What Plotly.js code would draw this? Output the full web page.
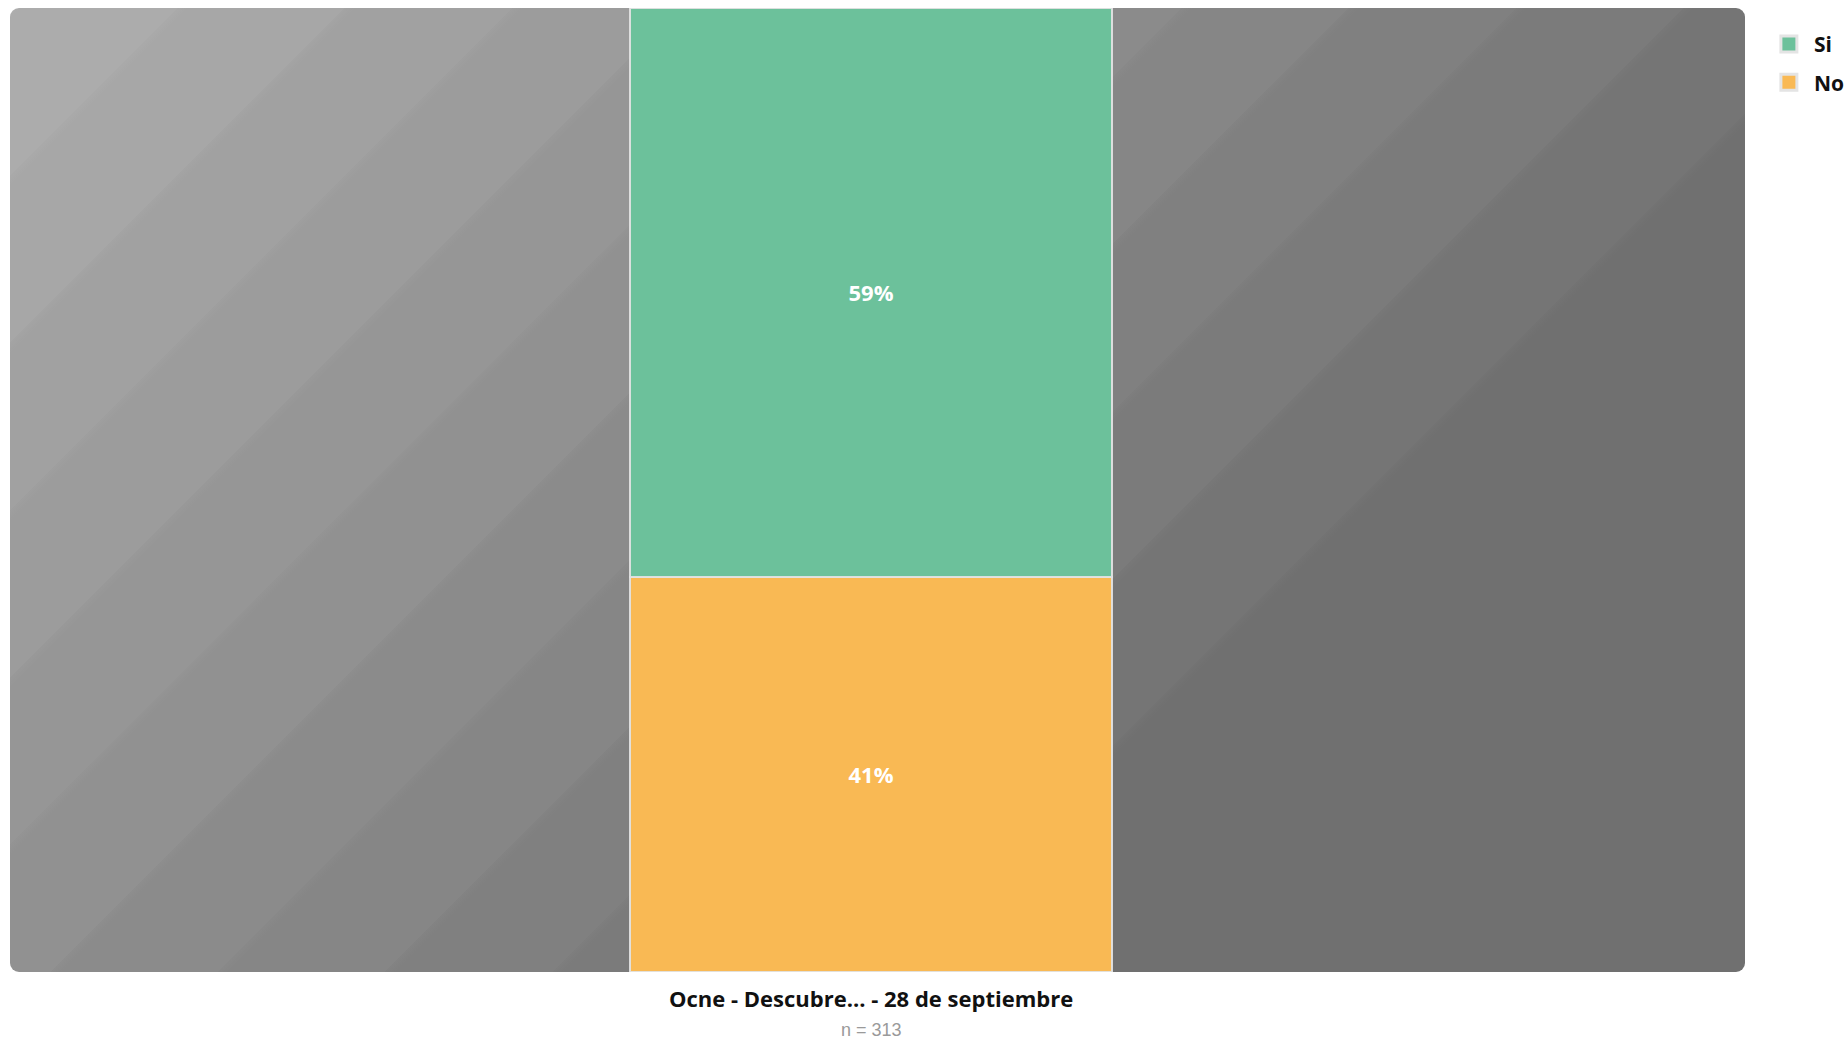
<!DOCTYPE html>
<html>
<head>
<meta charset="utf-8">
<script src="https://cdn.plot.ly/plotly-3.0.1.min.js"></script>
<style>
  html, body { margin: 0; padding: 0; background: #ffffff; }
  #chart { width: 1847px; height: 1039px; }
</style>
</head>
<body>
<div id="chart"></div>
<script>
// ---- data ----
const categories = ["Ocne - Descubre... - 28 de septiembre"];
const sampleLabel = "n = 313";
const seriesNames = ["Si", "No"];
const siValues = [59];
const noValues = [41];
const seriesColors = { Si: "#6cc19b", No: "#f9b954" };

// ---- decorative background (glossy striped gray panel) ----
const W = 1735, H = 964;
const bandGrays = [172, 167, 161, 156, 150, 145, 139, 134, 128, 123, 117, 112];
const bandStep = 0.062;
let stops = "";
bandGrays.forEach((g, i) => {
  const a = Math.min(i * bandStep, 1), b = Math.min((i + 1) * bandStep, 1);
  const c = `rgb(${g},${g},${g})`;
  const hi = `rgb(${g + 3},${g + 3},${g + 3})`;
  stops += `<stop offset="${a}" stop-color="${hi}"/><stop offset="${a + 0.004}" stop-color="${c}"/><stop offset="${b}" stop-color="${c}"/>`;
});
stops += `<stop offset="1" stop-color="rgb(112,112,112)"/>`;
const half = (W + H) / 2;
const svg = `<svg xmlns="http://www.w3.org/2000/svg" width="${W}" height="${H}" viewBox="0 0 ${W} ${H}" preserveAspectRatio="none">
<defs><linearGradient id="g" gradientUnits="userSpaceOnUse" x1="0" y1="0" x2="${half}" y2="${half}">${stops}</linearGradient></defs>
<rect x="0" y="0" width="${W}" height="${H}" rx="9" ry="9" fill="url(#g)"/>
</svg>`;
const bgUri = "data:image/svg+xml;base64," + btoa(svg);

const barLine = { color: "rgba(225,225,225,0.95)", width: 2 };
const labelFont = { family: "Open Sans", size: 22, color: "#ffffff", weight: "bold" };

const traces = [
  {
    type: "bar",
    name: seriesNames[1],
    x: categories,
    y: noValues,
    width: 0.278,
    marker: { color: seriesColors.No, line: barLine },
    texttemplate: "%{y}%",
    textposition: "inside",
    insidetextanchor: "middle",
    constraintext: "none",
    textfont: labelFont,
    showlegend: false,
    hoverinfo: "skip"
  },
  {
    type: "bar",
    name: seriesNames[0],
    x: categories,
    y: siValues,
    width: 0.278,
    marker: { color: seriesColors.Si, line: barLine },
    texttemplate: "%{y}%",
    textposition: "inside",
    insidetextanchor: "middle",
    constraintext: "none",
    textfont: labelFont,
    showlegend: false,
    hoverinfo: "skip"
  },
  // legend entries (square swatches with light border, as in the reference)
  {
    type: "scatter", mode: "markers", name: seriesNames[0],
    x: [null], y: [null], legendgroup: "si", legendrank: 1,
    marker: { symbol: "square", size: 22, color: seriesColors.Si, line: { color: "#e4e4e4", width: 3 } },
    hoverinfo: "skip"
  },
  {
    type: "scatter", mode: "markers", name: seriesNames[1],
    x: [null], y: [null], legendgroup: "no", legendrank: 2,
    marker: { symbol: "square", size: 22, color: seriesColors.No, line: { color: "#e4e4e4", width: 3 } },
    hoverinfo: "skip"
  }
];

const layout = {
  width: 1847,
  height: 1039,
  margin: { l: 10, r: 102, t: 8, b: 67, autoexpand: false },
  paper_bgcolor: "#ffffff",
  plot_bgcolor: "rgba(0,0,0,0)",
  barmode: "stack",
  bargap: 0,
  showlegend: true,
  legend: {
    xref: "container", yref: "container",
    x: 0.955, xanchor: "left", y: 0.977, yanchor: "top",
    traceorder: "grouped",
    tracegroupgap: 8,
    font: { family: "Open Sans", size: 21, color: "#111111", weight: "bold" },
    itemwidth: 40,
    bgcolor: "rgba(0,0,0,0)"
  },
  xaxis: {
    type: "category",
    range: [-0.4963, 0.5037],
    showgrid: false, zeroline: false, showline: false,
    ticks: "outside", ticklen: 8, tickcolor: "rgba(0,0,0,0)",
    tickfont: { family: "Open Sans", size: 22, color: "#111111", weight: "bold" },
    fixedrange: true
  },
  yaxis: {
    range: [0, 100],
    showgrid: false, zeroline: false, showline: false,
    showticklabels: false, ticks: "",
    fixedrange: true
  },
  images: [{
    source: bgUri,
    xref: "paper", yref: "paper",
    x: 0, y: 1, sizex: 1, sizey: 1,
    xanchor: "left", yanchor: "top",
    sizing: "stretch",
    layer: "below"
  }],
  annotations: [{
    text: sampleLabel,
    xref: "x", yref: "paper",
    x: categories[0], y: -0.0601,
    yanchor: "middle",
    showarrow: false,
    font: { family: "Liberation Sans", size: 18, color: "#9a9a9a" }
  }]
};

Plotly.newPlot("chart", traces, layout, { displayModeBar: false, staticPlot: true });
</script>
</body>
</html>
